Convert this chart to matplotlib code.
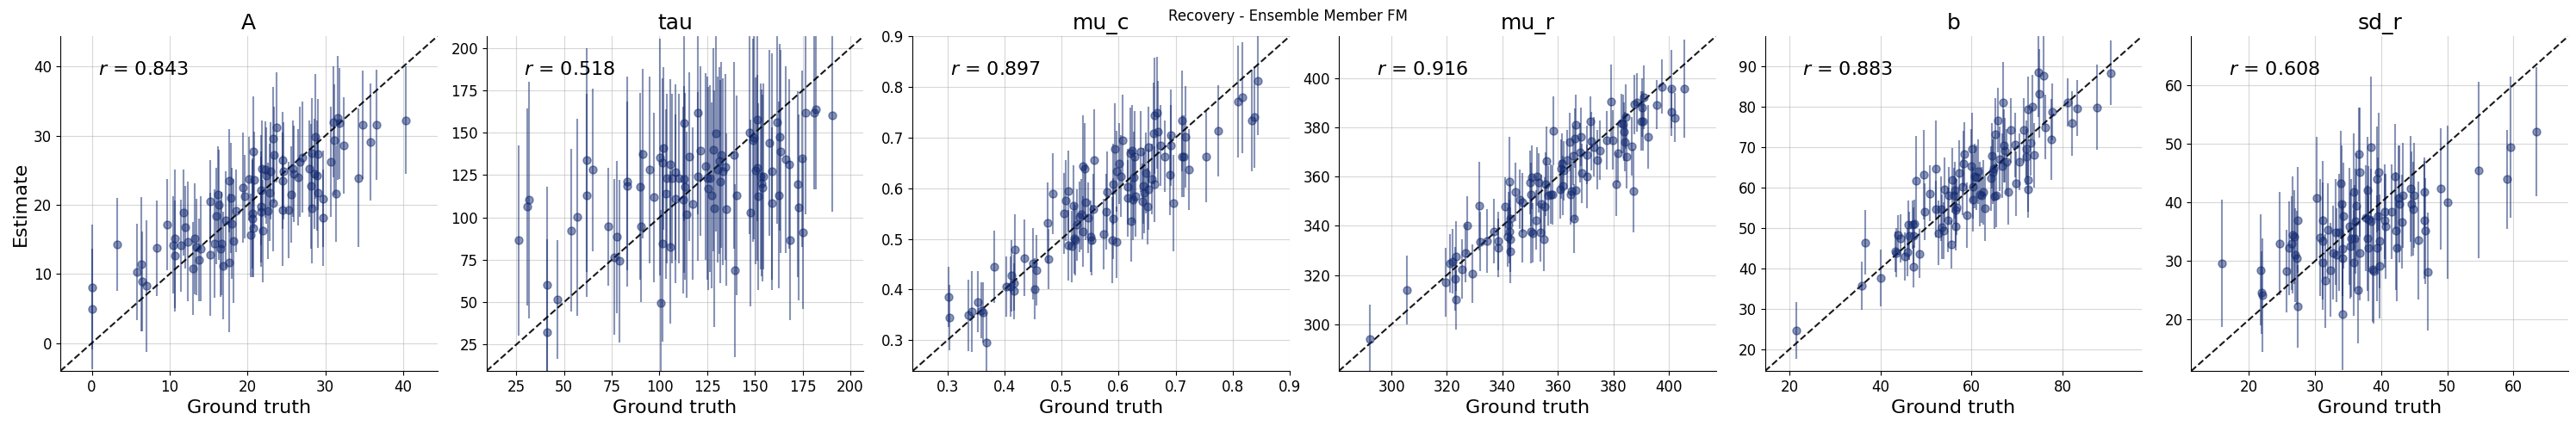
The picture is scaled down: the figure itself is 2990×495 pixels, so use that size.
import numpy as np
import matplotlib
matplotlib.use("Agg")
import matplotlib.pyplot as plt

# Parameter names
param_names = ["A", "tau", "mu_c", "mu_r", "b", "sd_r"]
r_values = [0.843, 0.518, 0.897, 0.916, 0.883, 0.608]

# --- A ---
A_true = [0.0, 0.1, 3.3, 5.8, 6.4, 6.5, 7.0, 8.3, 9.7, 10.5, 10.7, 10.7, 11.4, 11.8, 12.0, 12.3,
          13.0, 13.25, 13.4, 13.8, 14.0, 15.2, 15.2, 15.8, 16.0, 16.2, 16.3, 16.5, 16.7, 16.9,
          17.2, 17.6, 17.7, 17.9, 18.0, 18.2, 18.5, 19.4, 19.6, 20.2, 20.4, 20.7, 20.6, 20.6,
          20.7, 20.9, 21.7, 21.7, 21.8, 21.7, 21.95, 22.3, 22.4, 22.6, 22.8, 23.0, 23.3, 23.4,
          23.25, 23.75, 24.5, 24.5, 24.5, 24.6, 25.3, 25.6, 25.8, 25.9, 26.5, 26.75, 27.1, 27.9,
          28.2, 28.3, 28.3, 28.6, 28.75, 28.9, 29.0, 29.1, 29.7, 29.7, 30.7, 31.0, 31.2, 31.4,
          31.6, 31.8, 32.4, 34.2, 34.8, 35.8, 36.6, 40.3]
A_est = [8.1, 4.9, 14.25, 10.3, 11.4, 8.9, 8.25, 13.75, 17.2, 14.2, 15.1, 12.6, 14.1, 18.9, 16.75,
         14.7, 10.8, 15.1, 13.9, 12.0, 13.6, 12.8, 20.5, 14.4, 18.4, 21.5, 20.0, 13.7, 14.4, 11.2,
         17.8, 23.5, 11.6, 21.0, 17.3, 14.8, 19.1, 22.5, 21.2, 23.8, 15.6, 27.7, 18.75, 18.0,
         16.6, 23.6, 22.1, 19.7, 25.2, 19.0, 16.25, 25.1, 24.25, 19.1, 21.8, 24.9, 29.6, 27.2,
         20.3, 31.2, 26.5, 23.5, 19.2, 24.9, 19.25, 21.5, 25.2, 24.5, 24.0, 26.25, 26.9, 25.2,
         22.7, 27.5, 19.5, 24.5, 29.9, 24.25, 27.3, 21.75, 20.9, 18.1, 26.25, 32.0, 29.4, 21.6,
         32.6, 31.8, 28.6, 23.9, 31.6, 29.1, 31.6, 32.25]
A_err = [9.0, 8.7, 6.7, 7.0, 9.7, 7.2, 9.5, 6.9, 6.6, 7.0, 10.0, 8.0, 6.7, 6.2, 6.0, 8.7,
         6.7, 8.0, 7.0, 6.0, 7.6, 8.9, 6.0, 7.9, 7.0, 7.0, 8.0, 7.0, 7.5, 7.8,
         7.0, 7.5, 10.0, 8.0, 8.0, 9.0, 6.0, 8.0, 6.0, 6.0, 6.0, 8.0, 8.0, 8.5,
         7.0, 7.0, 8.0, 8.0, 7.0, 8.0, 7.4, 7.0, 7.0, 7.0, 7.0, 7.0, 7.5, 7.0,
         7.0, 8.0, 7.0, 7.0, 8.0, 7.0, 7.0, 7.0, 7.0, 7.0, 7.0, 8.0, 8.0, 7.0,
         9.0, 8.0, 8.0, 8.0, 9.0, 8.0, 8.0, 8.0, 7.0, 7.0, 8.0, 8.0, 8.0, 7.0,
         9.0, 8.0, 7.0, 10.0, 7.8, 8.5, 8.0, 7.8]

# --- tau ---
tau_true = [26.1, 30.9, 31.5, 41.3, 41.0, 46.7, 53.6, 57.0, 62.0, 62.0, 64.9, 73.2, 76.2, 77.7,
            79.2, 82.9, 83.2, 89.7, 90.3, 91.1, 95.0, 97.1, 100.2, 100.8, 101.4, 101.9, 101.6,
            103.4, 103.7, 105.5, 105.5, 106.7, 108.5, 108.5, 110.0, 112.7, 112.3, 113.0, 113.2,
            114.1, 115.6, 117.3, 120.0, 120.1, 121.3, 124.0, 124.9, 125.4, 126.3, 127.4, 128.1,
            128.6, 129.5, 130.7, 131.3, 131.7, 132.3, 133.1, 134.6, 135.2, 139.0, 139.4, 140.3,
            147.3, 147.6, 149.1, 149.5, 150.2, 151.1, 151.5, 151.7, 153.0, 153.5, 154.1, 154.6,
            157.6, 158.8, 159.0, 161.7, 162.6, 163.2, 163.6, 166.2, 168.0, 168.6, 172.6, 173.1,
            174.6, 175.0, 176.7, 181.3, 182.1, 190.4]
tau_est = [86.4, 106.2, 110.3, 60.0, 32.3, 51.6, 92.3, 100.1, 134.0, 113.2, 128.1, 94.5, 76.7, 88.4,
           74.2, 118.6, 121.3, 118.3, 94.9, 137.6, 128.1, 111.8, 135.6, 49.3, 84.7, 140.8, 132.3,
           113.9, 123.0, 131.5, 82.3, 123.0, 126.7, 111.0, 123.0, 155.6, 110.3, 122.5, 118.3,
           101.8, 135.9, 108.1, 161.7, 124.2, 139.3, 130.1, 123.0, 117.1, 123.0, 113.0, 140.0,
           105.2, 149.6, 128.4, 133.5, 121.0, 136.9, 127.1, 129.8, 104.7, 136.7, 68.6, 113.2,
           150.0, 102.7, 145.7, 147.1, 127.6, 157.6, 129.3, 112.3, 124.2, 120.3, 117.4, 124.2,
           144.0, 127.1, 108.3, 156.1, 113.2, 147.4, 139.0, 134.2, 131.5, 86.4, 119.6, 105.9,
           134.7, 91.0, 161.8, 161.8, 163.7, 160.2]
tau_err = [56, 58, 70, 58, 55, 35, 48, 58, 66, 60, 48, 35, 46, 45,
           48, 50, 62, 55, 45, 50, 55, 50, 70, 55, 58, 48, 50,
           50, 50, 50, 45, 50, 52, 50, 50, 58, 55, 55, 55,
           49, 50, 45, 60, 50, 50, 55, 60, 60, 55, 55, 60,
           70, 58, 55, 55, 60, 55, 55, 55, 45, 55, 51, 59,
           60, 55, 60, 60, 55, 60, 55, 55, 55, 55, 55, 55,
           55, 70, 45, 60, 55, 55, 60, 55, 50, 47, 55, 55,
           52, 45, 60, 45, 47, 57]

# --- mu_c ---
mu_c_true = [0.3015, 0.3035, 0.336, 0.343, 0.353, 0.359, 0.363, 0.368, 0.382, 0.4035, 0.411, 0.412,
             0.416, 0.416, 0.418, 0.4345, 0.450, 0.453, 0.456, 0.476, 0.477, 0.485, 0.504, 0.508,
             0.512, 0.512, 0.518, 0.521, 0.522, 0.524, 0.527, 0.532, 0.534, 0.538, 0.540, 0.538,
             0.542, 0.547, 0.5505, 0.553, 0.555, 0.5575, 0.574, 0.578, 0.580, 0.589, 0.590, 0.591,
             0.593, 0.596, 0.596, 0.601, 0.604, 0.607, 0.6165, 0.616, 0.6205, 0.6225, 0.624, 0.625,
             0.626, 0.628, 0.630, 0.639, 0.6415, 0.6435, 0.6455, 0.6475, 0.651, 0.653, 0.653, 0.659,
             0.6615, 0.663, 0.663, 0.668, 0.669, 0.674, 0.6815, 0.6905, 0.692, 0.692, 0.6965, 0.7105,
             0.7115, 0.714, 0.717, 0.724, 0.754, 0.775, 0.810, 0.8165, 0.833, 0.838, 0.8445]
mu_c_est = [0.3855, 0.3447, 0.349, 0.357, 0.376, 0.359, 0.355, 0.2955, 0.445, 0.406, 0.406, 0.427,
            0.413, 0.397, 0.479, 0.4625, 0.451, 0.401, 0.438, 0.5315, 0.460, 0.589, 0.550, 0.576,
            0.595, 0.487, 0.485, 0.565, 0.501, 0.4975, 0.5275, 0.543, 0.548, 0.6435, 0.638, 0.5145,
            0.572, 0.542, 0.505, 0.4975, 0.5585, 0.655, 0.5095, 0.553, 0.5925, 0.4975, 0.608, 0.540,
            0.6775, 0.4935, 0.634, 0.649, 0.624, 0.6945, 0.580, 0.603, 0.669, 0.535, 0.6735, 0.577,
            0.621, 0.6615, 0.5835, 0.672, 0.574, 0.604, 0.5915, 0.6305, 0.5645, 0.6815, 0.598, 0.618,
            0.7085, 0.7435, 0.608, 0.749, 0.7115, 0.684, 0.663, 0.6265, 0.7045, 0.684, 0.570, 0.733,
            0.663, 0.663, 0.701, 0.637, 0.663, 0.713, 0.771, 0.779, 0.734, 0.741, 0.8115]
mu_c_err = [0.06, 0.065, 0.07, 0.08, 0.06, 0.055, 0.06, 0.06, 0.072, 0.06, 0.06, 0.07,
            0.055, 0.055, 0.07, 0.075, 0.07, 0.06, 0.07, 0.08, 0.06, 0.08, 0.08, 0.08,
            0.08, 0.07, 0.07, 0.08, 0.07, 0.07, 0.07, 0.07, 0.07, 0.1, 0.09, 0.07,
            0.075, 0.07, 0.07, 0.07, 0.07, 0.1, 0.07, 0.075, 0.08, 0.085, 0.08, 0.08,
            0.09, 0.07, 0.08, 0.08, 0.08, 0.09, 0.075, 0.075, 0.09, 0.08, 0.09, 0.08,
            0.09, 0.09, 0.08, 0.08, 0.075, 0.075, 0.08, 0.08, 0.075, 0.08, 0.08, 0.07,
            0.1, 0.115, 0.075, 0.11, 0.1, 0.08, 0.07, 0.08, 0.09, 0.08, 0.095, 0.1,
            0.08, 0.08, 0.1, 0.08, 0.09, 0.09, 0.11, 0.11, 0.1, 0.1, 0.107]

# --- mu_r ---
mu_r_true = [292.1, 305.6, 319.6, 321.0, 322.0, 322.9, 323.2, 323.2, 325.3, 326.8, 327.4, 329.3,
             331.5, 332.1, 334.4, 337.0, 338.4, 338.6, 341.0, 341.9, 342.2, 342.5, 342.6, 342.7,
             342.8, 342.9, 344.8, 346.2, 347.1, 347.1, 350.0, 350.2, 350.2, 350.5, 351.0, 352.1,
             352.5, 353.1, 353.6, 354.1, 355.1, 355.4, 355.6, 356.0, 356.4, 357.5, 358.0, 358.5,
             360.8, 361.3, 361.6, 361.9, 362.1, 363.2, 364.2, 364.6, 365.0, 365.4, 365.8, 366.2,
             366.5, 366.6, 367.9, 368.2, 368.7, 370.4, 370.4, 371.7, 372.0, 373.0, 374.1, 375.3,
             377.7, 379.3, 379.9, 381.1, 381.6, 382.9, 383.4, 383.7, 384.2, 384.6, 384.9, 386.7,
             387.3, 387.6, 388.4, 390.1, 390.4, 390.7, 390.9, 392.7, 395.5, 397.5, 400.8, 401.0,
             402.1, 405.5]
mu_r_est = [293.9, 314.0, 317.0, 324.8, 325.6, 318.4, 327.7, 309.9, 322.4, 328.9, 340.1, 320.5,
            348.1, 333.6, 333.8, 337.8, 333.8, 331.0, 347.8, 335.5, 340.6, 358.0, 337.6, 334.4,
            329.7, 342.9, 353.7, 350.7, 349.5, 337.1, 357.7, 352.8, 337.6, 359.8, 337.1, 342.3,
            360.0, 357.5, 337.3, 348.7, 334.5, 347.8, 356.9, 366.4, 352.2, 352.8, 352.6, 378.7,
            354.8, 363.1, 365.4, 356.3, 362.4, 366.8, 374.0, 352.6, 354.0, 368.5, 342.9, 375.5,
            354.3, 381.1, 369.7, 376.1, 361.3, 360.1, 368.8, 382.5, 374.4, 372.0, 366.8, 370.6,
            374.7, 390.4, 374.9, 356.9, 369.5, 381.6, 381.4, 378.2, 374.1, 384.3, 368.1, 372.3,
            354.2, 389.3, 390.1, 382.5, 388.0, 382.5, 392.1, 376.1, 389.2, 396.5, 386.4, 395.6,
            383.9, 395.7]
mu_r_err = [14, 14, 14, 12, 13, 13, 14, 12, 12, 12, 12, 12,
            18, 12, 13, 13, 12, 12, 12, 12, 13, 18, 13, 13,
            13, 14, 12, 12, 12, 12, 13, 13, 13, 13, 12, 12,
            12, 12, 12, 12, 13, 12, 13, 14, 12, 12, 12, 14,
            12, 12, 12, 12, 12, 12, 12, 12, 12, 12, 14, 12,
            12, 12, 12, 12, 12, 13, 12, 10, 12, 12, 12, 12,
            12, 15, 12, 13, 12, 12, 12, 12, 12, 13, 13, 12,
            17, 12, 12, 12, 12, 12, 13, 13, 10, 11, 10, 16,
            10, 20]

# --- b ---
b_true = [21.5, 35.9, 36.7, 40.1, 43.2, 43.5, 43.8, 44.4, 45.4, 45.9, 46.1, 46.3, 47.0, 47.2, 47.3,
          47.5, 47.9, 48.5, 49.6, 49.8, 50.8, 52.1, 52.2, 52.8, 53.3, 53.5, 53.9, 54.0, 54.9, 55.1,
          55.5, 55.8, 56.2, 56.4, 56.5, 56.6, 56.7, 57.2, 58.0, 58.2, 58.4, 59.0, 59.9, 60.1, 60.3,
          60.4, 60.7, 61.0, 61.5, 61.8, 62.2, 62.6, 62.9, 64.3, 64.4, 64.6, 64.8, 65.0, 65.2, 65.4,
          65.8, 66.2, 66.7, 66.9, 67.1, 67.3, 67.7, 68.0, 68.7, 69.6, 69.7, 70.5, 71.5, 72.1, 72.1,
          72.5, 72.5, 72.5, 73.0, 73.4, 73.7, 74.7, 74.8, 75.9, 76.2, 77.5, 77.8, 81.1, 82.0, 83.2,
          87.5, 90.6]
b_est = [24.7, 35.7, 46.4, 37.6, 44.2, 43.9, 48.3, 47.4, 42.9, 44.0, 50.9, 48.1, 50.9, 40.5, 48.1,
         51.1, 61.8, 43.7, 63.2, 54.1, 58.6, 64.6, 54.7, 48.8, 54.7, 50.3, 49.3, 59.5, 52.0, 58.1,
         45.9, 61.9, 58.0, 59.4, 54.4, 50.4, 55.2, 63.7, 60.3, 66.0, 68.3, 53.2, 65.4, 69.6, 57.1,
         60.3, 62.8, 62.5, 64.0, 58.4, 58.2, 58.9, 54.9, 62.3, 67.9, 63.9, 64.6, 57.8, 73.2, 58.2,
         76.7, 67.1, 65.4, 81.1, 70.4, 69.2, 66.4, 58.9, 74.2, 70.6, 61.0, 66.4, 74.2, 67.6, 69.6,
         79.5, 62.0, 59.6, 71.0, 80.0, 68.1, 88.5, 83.3, 87.7, 75.0, 72.0, 78.8, 81.1, 75.9, 79.7,
         79.9, 88.4]
b_err = [7, 6, 8, 7, 5, 6, 5, 6, 6, 6, 6, 6, 6, 5.3, 7,
         6, 11, 6, 11, 7, 7, 12, 7, 8, 8, 8, 7, 8, 8, 7,
         6, 8, 7, 7, 8, 6, 7, 8, 7, 8, 8, 8, 9, 9, 8,
         8, 8, 8, 8, 8, 7, 8, 8, 8, 8, 8, 8, 8, 9, 8,
         8, 8, 8, 10, 9, 8, 8, 8, 8, 8, 8, 7, 8, 7, 7,
         8, 8, 7, 8, 8, 8, 11, 11, 12, 8, 10, 7, 6, 8, 7,
         10.5, 8]

# --- sd_r ---
sd_r_true = [15.9, 21.8, 21.9, 22.0, 24.7, 25.7, 26.1, 26.5, 26.6, 26.9, 27.0, 27.3, 27.4, 27.4,
             30.3, 30.7, 31.1, 31.1, 31.2, 31.5, 32.0, 32.3, 32.7, 33.1, 33.2, 33.6, 33.9, 34.0,
             34.1, 34.2, 34.2, 34.3, 35.2, 35.3, 35.4, 35.8, 35.9, 36.0, 36.1, 36.3, 36.5, 36.6,
             36.8, 36.8, 37.7, 37.9, 37.9, 38.0, 38.1, 38.4, 38.5, 38.7, 38.9, 39.3, 39.4, 39.5,
             39.6, 39.7, 39.8, 40.5, 40.5, 40.7, 41.6, 42.1, 42.2, 42.3, 42.6, 42.7, 43.1, 43.3,
             44.5, 44.6, 44.9, 45.0, 45.6, 46.5, 46.5, 46.6, 47.0, 49.0, 50.1, 54.7, 59.1, 59.5,
             63.5]
sd_r_est = [29.6, 28.5, 24.6, 24.2, 33.0, 28.3, 32.2, 33.0, 34.4, 34.1, 31.0, 30.5, 37.0, 22.3,
            40.7, 34.0, 33.4, 29.7, 37.0, 26.6, 35.3, 28.5, 31.4, 34.9, 31.0, 34.9, 43.2, 39.7,
            30.5, 20.9, 32.1, 37.7, 35.9, 32.6, 33.9, 29.7, 41.8, 33.9, 36.8, 39.4, 25.0, 48.2,
            45.2, 31.3, 37.3, 42.1, 33.9, 32.2, 37.1, 36.8, 49.4, 28.6, 28.3, 43.9, 32.2, 37.7,
            45.2, 29.2, 33.4, 38.4, 36.9, 35.9, 38.4, 44.4, 35.1, 32.2, 40.7, 39.7, 36.7, 41.2,
            42.3, 39.7, 38.9, 41.2, 33.5, 41.7, 37.0, 35.1, 28.2, 42.3, 40.0, 45.5, 43.9, 49.4,
            52.0]
sd_r_err = [10.8, 9.5, 7, 9.7, 8.8, 7, 8, 8, 10, 8, 8, 8, 9, 7,
            10.5, 10, 10, 8, 10, 8, 8, 8, 8, 9, 8, 10, 9, 10,
            9, 9.5, 8, 9, 10, 9, 10, 9, 10, 9, 9, 9, 9, 8,
            11, 8, 9, 9, 9, 9, 9, 9, 12, 9, 9, 9, 9, 10,
            10, 9, 8, 8, 8, 9, 8, 9, 10, 9, 9, 10, 8, 9,
            9, 9, 8, 9, 10, 6, 10, 9, 10, 10.3, 13, 15, 8.5, 12,
            11]

panels = [
    (A_true, A_est, A_err),
    (tau_true, tau_est, tau_err),
    (mu_c_true, mu_c_est, mu_c_err),
    (mu_r_true, mu_r_est, mu_r_err),
    (b_true, b_est, b_err),
    (sd_r_true, sd_r_est, sd_r_err),
]

# shared axis limits per panel (equal on x and y)
limits = [(-4.05, 44.4), (9.3, 207.0), (0.239, 0.9), (281.0, 417.0), (14.6, 97.5), (11.25, 68.3)]
ticks = [
    np.arange(0, 41, 10),
    np.arange(25, 201, 25),
    np.arange(0.3, 0.91, 0.1),
    np.arange(300, 401, 20),
    None,
    np.arange(20, 61, 10),
]

color = "#132a70"

fig, axes = plt.subplots(1, 6, figsize=(29.9, 4.95), dpi=100)
plt.subplots_adjust(left=0.0234, right=0.997, bottom=0.129, top=0.915, wspace=0.130)

for i, ax in enumerate(axes):
    gt, est, err = panels[i]
    ax.errorbar(gt, est, yerr=err, fmt="o", alpha=0.5, color=color, markersize=6.5, lw=1.5)

    lower, upper = limits[i]
    ax.set_xlim(lower, upper)
    ax.set_ylim(lower, upper)
    ax.plot([lower, upper], [lower, upper], color="black", alpha=0.9, linestyle="dashed", lw=1.5)

    if ticks[i] is not None:
        ax.set_xticks(ticks[i])
        ax.set_yticks(ticks[i])
    else:
        ax.set_xticks(np.arange(20, 81, 20))
        ax.set_yticks(np.arange(20, 91, 10))
    if param_names[i] == "mu_c":
        ax.set_xticklabels(["0.3", "0.4", "0.5", "0.6", "0.7", "0.8", "0.9"])
        ax.set_yticklabels(["0.3", "0.4", "0.5", "0.6", "0.7", "0.8", "0.9"])

    ax.text(0.1, 0.9, "$r$ = {:.3f}".format(r_values[i]), ha="left", va="center",
            transform=ax.transAxes, size=16)

    ax.set_title(param_names[i], fontsize=18)
    ax.set_xlabel("Ground truth", fontsize=16)
    if i == 0:
        ax.set_ylabel("Estimate", fontsize=16)
    ax.tick_params(labelsize=12)
    ax.grid(alpha=0.5)
    ax.set_axisbelow(True)
    ax.spines["top"].set_visible(False)
    ax.spines["right"].set_visible(False)

fig.suptitle("Recovery - Ensemble Member FM", fontsize=12)

plt.savefig("out.png", dpi=100)
